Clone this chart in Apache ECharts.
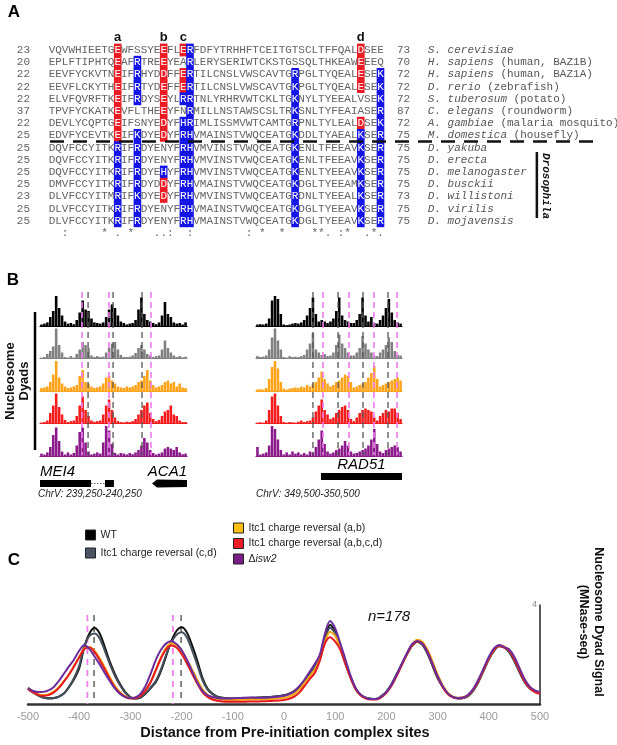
<!DOCTYPE html>
<html><head><meta charset="utf-8">
<script src="https://cdn.jsdelivr.net/npm/echarts@6/dist/echarts.min.js"></script>
<style>html,body{margin:0;padding:0;background:#fff}#c{width:617px;height:745px}</style>
</head><body><div id="c"></div>
<script>
// ================= Panel A: alignment =================
const alnStart = [23,20,22,22,22,37,22,25,25,25,25,25,23,25,25];
const alnEnd   = [73,70,72,72,72,87,72,75,75,75,75,75,73,75,75];
const alnSeqs = [
'VQVWHIEETGEWFSSYEEFLERFDFYTRHHFTCEITGTSCLTFFQALDSEE',
'EPLFTIPHTQEAFRTREEYEARLERYSERIWTCKSTGSSQLTHKEAWEEEQ',
'EEVFYCKVTNEIFRHYDDFFERTILCNSLVWSCAVTGRPGLTYQEALESEK',
'EEVFLCKYTHEIFRTYDEFFERTILCNSLVWSCAVTGKPGLTYQEALESEK',
'ELVFQVRFTKEIFRDYSEYLRRTNLYRHRVWTCKLTGKNYLTYEEALVSEK',
'TPVFYCKATKEVFLTHEEYFNRMILLNSTAWSCSLTRKSNLTYFEAIASER',
'DEVLYCQPTGEIFSNYEDYFHRIMLISSMVWTCAMTGRPNLTYLEALDSEK',
'EDVFYCEVTKEIFKDYEDYFRHVMAINSTVWQCEATGKDDLTYAEALKSER',
'DQVFCCYITKRIFRDYENYFRHVMVINSTVWQCEATGKENLTFEEAVKSER',
'DQVFCCYITKRIFRDYENYFRHVMVINSTVWQCEATGKENLTFEEAVKSER',
'DQVFCCYITKRIFRDYEHYFRHVMVINSTVWQCEATGKENLTYEEAVKSER',
'DMVFCCYITKRIFRDYDDYFRHVMAINSTVWQCEATGKDGLTYEEAMKSER',
'DLVFCCYITMRIFKDYEDYFRHVMVINSTVWQCEATGRDNLTYEEALKSER',
'DLVFCCYITKRIFRDYENYFRHVMAINSTVWQCEATGKDGLTYEEAVKSER',
'DLVFCCYITKRIFRDYENYFRHVMAINSTVWQCEATGKDGLTYEEAVKSER'
];
const alnSpecies = ['S. cerevisiae','H. sapiens','H. sapiens','D. rerio','S. tuberosum','C. elegans','A. gambiae','M. domestica','D. yakuba','D. erecta','D. melanogaster','D. busckii','D. willistoni','D. virilis','D. mojavensis'];
const alnCommon = ['','(human, BAZ1B)','(human, BAZ1A)','(zebrafish)','(potato)','(roundworm)','(malaria mosquito)','(housefly)','','','','','','',''];
const alnRed = [[11,18,21,48],[11,18,48],[11,18,21,48],[11,18,21,48],[11,18],[11,18],[11,18,48],[11,18],[],[],[],[18],[18],[],[]];
const alnBlue = [[22],[14,22],[14,22,38,51],[14,22,38,51],[14,21,22,38,51],[22,38,51],[21,22,38,51],[14,21,22,38,48,51],
  [11,14,21,22,38,48,51],[11,14,21,22,38,48,51],[11,14,18,21,22,38,48,51],[11,14,21,22,38,48,51],[11,14,21,22,38,48,51],[11,14,21,22,38,48,51],[11,14,21,22,38,48,51]];
const alnConsensus = [[3,':'],[9,'*'],[11,'.'],[13,'*'],[17,'.'],[18,'.'],[19,':'],[22,':'],[31,':'],[33,'*'],[36,'*'],[41,'*'],[42,'*'],[43,'.'],[45,':'],[46,'*'],[49,'.'],[50,'*'],[51,'.']];
const siteCols = [11,18,21,48];
const siteNames = ['a','b','c','d'];

// ================= Panel B: nucleosome dyad tracks (50 bins / 1 kb) =================
const trackL_wt   = [0.05,0.08,0.12,0.3,0.5,1.0,0.6,0.35,0.15,0.08, 0.1,0.06,0.2,0.45,0.85,0.55,0.5,0.25,0.12,0.1, 0.08,0.12,0.3,0.55,0.72,0.6,0.35,0.15,0.1,0.05, 0.08,0.1,0.2,0.55,0.95,0.4,0.2,0.15,0.1,0.06, 0.12,0.35,0.8,0.4,0.3,0.12,0.08,0.1,0.05,0.12];
const trackL_cd   = [0.03,0.05,0.15,0.25,0.4,1.0,0.45,0.2,0.05,0.03, 0.08,0.03,0.15,0.3,0.55,0.45,0.35,0.1,0.05,0.08, 0.05,0.06,0.2,0.35,0.5,0.55,0.3,0.12,0.05,0.05, 0.06,0.1,0.18,0.35,0.45,0.3,0.15,0.1,0.05,0.08, 0.1,0.3,0.6,0.35,0.2,0.1,0.05,0.08,0.04,0.06];
const trackL_ab   = [0.1,0.12,0.15,0.3,0.55,1.0,0.45,0.25,0.15,0.1, 0.12,0.15,0.2,0.5,0.7,0.3,0.25,0.15,0.1,0.12, 0.15,0.25,0.45,0.5,0.35,0.25,0.15,0.12,0.1,0.15, 0.12,0.15,0.2,0.3,0.35,0.5,0.7,0.35,0.2,0.12, 0.15,0.2,0.3,0.35,0.25,0.3,0.15,0.25,0.12,0.1];
const trackL_abcd = [0.03,0.05,0.1,0.35,0.6,1.0,0.55,0.3,0.12,0.05, 0.08,0.1,0.25,0.6,0.9,0.45,0.25,0.1,0.06,0.08, 0.1,0.3,0.6,0.8,0.45,0.2,0.08,0.05,0.04,0.06, 0.05,0.08,0.15,0.3,0.45,0.6,0.7,0.35,0.15,0.08, 0.12,0.25,0.4,0.45,0.6,0.3,0.25,0.1,0.05,0.05];
const trackL_isw2 = [0.08,0.05,0.12,0.3,0.7,0.95,0.5,0.15,0.05,0.12, 0.05,0.1,0.35,0.8,0.95,0.45,0.15,0.05,0.08,0.12, 0.08,0.45,1.0,0.85,0.4,0.1,0.05,0.1,0.08,0.05, 0.1,0.06,0.12,0.2,0.35,0.6,0.45,0.2,0.1,0.05, 0.08,0.12,0.25,0.3,0.25,0.2,0.3,0.12,0.06,0.08];
const trackR_wt   = [0.05,0.06,0.05,0.08,0.25,0.85,1.0,0.9,0.4,0.05, 0.03,0.05,0.08,0.1,0.08,0.12,0.2,0.35,0.6,0.95, 0.4,0.15,0.2,0.15,0.1,0.15,0.25,0.5,0.95,0.35, 0.2,0.15,0.1,0.1,0.2,0.4,0.95,0.35,0.15,0.3, 0.1,0.08,0.2,0.35,0.6,0.9,0.45,0.2,0.12,0.08];
const trackR_cd   = [0.08,0.05,0.06,0.1,0.3,0.7,1.0,0.6,0.3,0.05, 0.03,0.08,0.05,0.06,0.05,0.08,0.12,0.3,0.5,0.85, 0.3,0.2,0.12,0.15,0.08,0.1,0.2,0.45,0.8,0.5, 0.35,0.2,0.1,0.1,0.2,0.35,0.75,0.5,0.3,0.2, 0.1,0.08,0.2,0.3,0.45,0.7,0.55,0.25,0.12,0.1];
const trackR_ab   = [0.05,0.06,0.05,0.1,0.4,0.8,1.0,0.75,0.3,0.08, 0.05,0.08,0.1,0.12,0.1,0.15,0.12,0.2,0.15,0.25, 0.3,0.45,0.65,0.4,0.25,0.15,0.2,0.3,0.35,0.45, 0.55,0.5,0.3,0.12,0.15,0.2,0.25,0.3,0.45,0.6, 0.83,0.4,0.15,0.2,0.25,0.3,0.35,0.4,0.45,0.35];
const trackR_abcd = [0.03,0.04,0.03,0.1,0.45,0.9,1.0,0.6,0.25,0.05, 0.03,0.05,0.04,0.03,0.06,0.1,0.05,0.08,0.1,0.2, 0.4,0.6,0.8,0.45,0.3,0.15,0.2,0.35,0.45,0.55, 0.6,0.45,0.15,0.08,0.2,0.35,0.45,0.5,0.45,0.4, 0.2,0.1,0.25,0.35,0.45,0.4,0.5,0.5,0.35,0.15];
const trackR_isw2 = [0.3,0.05,0.08,0.12,0.35,1.0,0.9,0.55,0.2,0.05, 0.12,0.05,0.15,0.08,0.12,0.05,0.1,0.05,0.15,0.12, 0.3,0.55,0.85,0.4,0.15,0.08,0.12,0.2,0.25,0.35, 0.5,0.35,0.15,0.08,0.1,0.15,0.2,0.25,0.35,0.55, 0.9,0.4,0.15,0.1,0.2,0.25,0.3,0.35,0.3,0.15];
// dyad reference lines (bp within the 1 kb window)
const dyadL_isw2 = [286, 469, 755];
const dyadL_wt   = [327, 497, 694];
const dyadR_isw2 = [459, 637, 808, 966];
const dyadR_wt   = [390, 562, 733, 904];
// gene models: [start, end, kind] kind 0 exon, 1 intron, 2 exon w/ leftward arrow
const genesL = [[0,347,0],[347,442,1],[442,503,0],[762,1000,2]];
const genesR = [[445,1000,0]];
const geneNamesL = ['MEI4','ACA1'];
const geneLabelPosL = [0, 1000];
const geneNamesR = ['RAD51'];
const geneLabelPosR = [722];
const regionL = 'ChrV: 239,250-240,250';
const regionR = 'ChrV: 349,500-350,500';

// ================= Panel C: aggregate dyad signal =================
const seriesNames = ['WT','Itc1 charge reversal (c,d)','Itc1 charge reversal (a,b)','Itc1 charge reversal (a,b,c,d)','Δisw2'];
const sig_wt = [0.65,0.50,0.37,0.27,0.23,0.24,0.30,0.42,0.68,1.00,
 1.45,2.30,2.85,3.07,2.85,2.30,1.70,1.20,0.80,0.48,
 0.28,0.22,0.26,0.42,0.65,0.90,1.35,1.95,2.55,2.95,
 3.10,2.90,2.40,1.80,1.10,0.65,0.42,0.30,0.25,0.23,
 0.22,0.22,0.23,0.24,0.25,0.26,0.27,0.28,0.30,0.32,
 0.35,0.42,0.52,0.70,0.95,1.25,1.55,1.90,2.65,3.20,
 2.95,2.30,1.65,1.10,0.62,0.36,0.25,0.21,0.20,0.32,
 0.50,0.80,1.20,1.60,2.00,2.35,2.52,2.40,2.05,1.55,
 1.05,0.70,0.42,0.28,0.23,0.24,0.33,0.55,0.90,1.35,
 1.80,2.15,2.33,2.30,2.10,1.75,1.30,0.90,0.65,0.52,
 0.45];
const sig_cd = [0.60,0.46,0.34,0.25,0.22,0.23,0.29,0.42,0.70,1.05,
 1.55,2.35,2.75,2.85,2.65,2.15,1.60,1.12,0.75,0.45,
 0.27,0.22,0.27,0.44,0.68,0.95,1.42,2.00,2.50,2.80,
 2.90,2.70,2.20,1.62,1.00,0.60,0.40,0.29,0.24,0.22,
 0.21,0.21,0.22,0.23,0.24,0.25,0.26,0.27,0.29,0.31,
 0.34,0.40,0.50,0.68,0.93,1.22,1.52,1.88,2.60,3.08,
 2.85,2.25,1.62,1.08,0.60,0.35,0.24,0.20,0.20,0.31,
 0.50,0.80,1.20,1.62,2.02,2.36,2.52,2.42,2.06,1.56,
 1.06,0.70,0.42,0.28,0.22,0.24,0.33,0.56,0.92,1.37,
 1.82,2.17,2.34,2.30,2.08,1.72,1.28,0.88,0.63,0.50,
 0.43];
const sig_ab = [0.62,0.48,0.39,0.36,0.40,0.50,0.68,0.92,1.20,1.55,
 1.90,2.25,2.30,2.15,1.85,1.48,1.08,0.72,0.47,0.31,
 0.24,0.26,0.36,0.58,0.92,1.40,1.90,2.28,2.45,2.38,
 2.15,1.80,1.42,1.00,0.62,0.38,0.25,0.20,0.17,0.16,
 0.16,0.17,0.17,0.18,0.18,0.19,0.19,0.20,0.21,0.23,
 0.25,0.31,0.40,0.58,0.85,1.12,1.38,1.80,2.50,2.92,
 2.75,2.25,1.65,1.08,0.62,0.36,0.24,0.20,0.20,0.30,
 0.48,0.76,1.15,1.58,2.02,2.40,2.60,2.52,2.20,1.72,
 1.20,0.76,0.46,0.30,0.25,0.27,0.37,0.60,0.96,1.40,
 1.84,2.20,2.36,2.33,2.16,1.86,1.42,1.00,0.70,0.52,
 0.44];
const sig_abcd = [0.60,0.47,0.37,0.33,0.36,0.46,0.64,0.90,1.18,1.52,
 1.88,2.22,2.28,2.10,1.78,1.40,1.00,0.66,0.43,0.29,
 0.22,0.24,0.34,0.56,0.90,1.38,1.86,2.22,2.36,2.28,
 2.02,1.66,1.25,0.85,0.50,0.29,0.18,0.13,0.10,0.09,
 0.09,0.09,0.09,0.10,0.10,0.10,0.11,0.12,0.13,0.14,
 0.16,0.21,0.30,0.46,0.72,1.00,1.25,1.75,2.45,2.70,
 2.52,2.20,1.62,1.05,0.60,0.34,0.22,0.18,0.18,0.27,
 0.45,0.74,1.13,1.57,2.02,2.38,2.52,2.45,2.12,1.62,
 1.10,0.68,0.40,0.27,0.23,0.25,0.36,0.60,0.95,1.40,
 1.85,2.20,2.35,2.28,2.16,1.80,1.35,0.92,0.64,0.48,
 0.41];
const sig_isw2 = [0.62,0.53,0.48,0.49,0.55,0.68,0.92,1.22,1.52,1.80,
 2.15,2.38,2.22,1.92,1.60,1.25,0.92,0.62,0.40,0.28,
 0.24,0.27,0.42,0.75,1.25,1.80,2.20,2.45,2.55,2.42,
 2.18,1.80,1.35,0.90,0.55,0.36,0.28,0.24,0.22,0.22,
 0.23,0.24,0.25,0.26,0.26,0.25,0.25,0.26,0.28,0.30,
 0.33,0.40,0.52,0.72,0.98,1.30,1.62,2.00,2.85,3.35,
 3.05,2.45,1.80,1.15,0.65,0.38,0.25,0.20,0.20,0.30,
 0.48,0.78,1.18,1.62,2.05,2.42,2.55,2.45,2.10,1.62,
 1.12,0.72,0.43,0.29,0.24,0.26,0.38,0.62,1.00,1.45,
 1.90,2.25,2.38,2.30,2.20,1.90,1.45,1.00,0.70,0.55,
 0.48];
const cDyad_isw2 = [-384, -217];
const cDyad_wt = [-371, -201];
const xTicks = [-500,-400,-300,-200,-100,0,100,200,300,400,500];

// ================= build =================
const SANS = '"Liberation Sans", Arial, Helvetica, sans-serif';
const MONO = '"Liberation Mono", "Courier New", monospace';
const distance = [];
for (let d = xTicks[0]; d <= xTicks[xTicks.length-1]; d += 10) distance.push(d);

const option = {animation:false, grid:[], xAxis:[], yAxis:[], series:[], legend:[], graphic:[]};
function addGrid(g, xa, ya) {
  const gi = option.grid.length;
  option.grid.push(g);
  option.xAxis.push(Object.assign({gridIndex:gi}, xa));
  option.yAxis.push(Object.assign({gridIndex:gi}, ya));
  return gi;
}

// ---- A ----
const COLW = 6.57, ROWH = 12.2, COL1X = 52, ROW1Y = 50;
const gA = addGrid({left: COL1X - 5*COLW, top: ROW1Y - 0.5*ROWH, width: 90*COLW, height: 16*ROWH},
  {type:'value', min:-4, max:86, show:false}, {type:'value', min:0.5, max:16.5, inverse:true, show:false});
const SEQ_GRAY = '#636363';
function renderAln(params, api) {
  const r = api.value(1);
  const sz = api.size([1, 1]);
  const cw = sz[0], rh = sz[1];
  const kids = [];
  const font11 = '11px ' + MONO;
  if (r === 0) {
    siteCols.forEach((c, k) => {
      const p = api.coord([c, 0]);
      kids.push({type:'text', style:{text: siteNames[k], x:p[0], y:p[1], align:'center', verticalAlign:'middle', font:'bold 13px ' + SANS, fill:'#111'}});
    });
  } else if (r === 16) {
    alnConsensus.forEach(([c, ch]) => {
      const p = api.coord([c, r]);
      kids.push({type:'text', style:{text: ch, x:p[0], y:p[1], align:'center', verticalAlign:'middle', font: font11, fill:SEQ_GRAY}});
    });
  } else {
    const i = r - 1;
    const seq = alnSeqs[i];
    for (let c = 1; c <= seq.length; c++) {
      const p = api.coord([c, r]);
      let bg = null;
      if (alnRed[i].includes(c)) bg = '#ec1c24';
      else if (alnBlue[i].includes(c)) bg = '#1414e6';
      if (bg) kids.push({type:'rect', shape:{x:p[0]-cw*0.58, y:p[1]-rh/2-0.3, width:cw*1.16, height:rh+0.6}, style:{fill:bg}});
      kids.push({type:'text', style:{text: seq[c-1], x:p[0], y:p[1], align:'center', verticalAlign:'middle', font: font11, fill: bg ? '#fff' : SEQ_GRAY}});
    }
    const ps = api.coord([-2.35, r]);
    kids.push({type:'text', style:{text:String(alnStart[i]), x:ps[0], y:ps[1], align:'right', verticalAlign:'middle', font: font11, fill:SEQ_GRAY}});
    const pe = api.coord([53.5, r]);
    kids.push({type:'text', style:{text:String(alnEnd[i]), x:pe[0], y:pe[1], align:'left', verticalAlign:'middle', font: font11, fill:SEQ_GRAY}});
    const pn = api.coord([58.2, r]);
    const txt = '{i|' + alnSpecies[i] + '}' + (alnCommon[i] ? '{n| ' + alnCommon[i] + '}' : '');
    kids.push({type:'text', style:{text: txt, x:pn[0], y:pn[1], align:'left', verticalAlign:'middle', font: font11, fill:'#555',
      rich:{i:{fontStyle:'italic', fontSize:11, fontFamily:MONO, fill:'#555'}, n:{fontSize:11, fontFamily:MONO, fill:'#555'}}}});
  }
  return {type:'group', children: kids};
}
const alnRows = [];
for (let r = 0; r <= alnSeqs.length + 1; r++) alnRows.push([0, r]);
option.series.push({type:'custom', xAxisIndex:gA, yAxisIndex:gA, data: alnRows, renderItem: renderAln, silent:true, clip:false});
option.series.push({type:'line', xAxisIndex:gA, yAxisIndex:gA, data:[[0.7, 8.5],[84.7, 8.5]], symbol:'none', silent:true,
  lineStyle:{color:'#111', width:2.5, type:[14,9]}});
option.series.push({type:'line', xAxisIndex:gA, yAxisIndex:gA, data:[[74.8, 9.36],[74.8, 14.77]], symbol:'none', silent:true,
  lineStyle:{color:'#111', width:2.5}});

// ---- B ----
const trackColors = ['#000000','#808080','#ffa31a','#f41d1d','#8b1a8b'];
const trackTops = [296, 328.5, 361, 393.5, 426];
const TRACK_H = 30;
const binIdx = trackL_wt.map((v, i) => i);
const sides = [
  {left:40, width:147, tracks:[trackL_wt,trackL_cd,trackL_ab,trackL_abcd,trackL_isw2], dm:dyadL_isw2, dg:dyadL_wt, genes:genesL, geneTop:480, names:geneNamesL, namePos:geneLabelPosL},
  {left:256, width:146, tracks:[trackR_wt,trackR_cd,trackR_ab,trackR_abcd,trackR_isw2], dm:dyadR_isw2, dg:dyadR_wt, genes:genesR, geneTop:473, names:geneNamesR, namePos:geneLabelPosR}
];
const labelAlign = {MEI4:'left', ACA1:'right', RAD51:'center'};
sides.forEach(sd => {
  sd.tracks.forEach((vals, t) => {
    const gi = addGrid({left: sd.left, top: trackTops[t], width: sd.width, height: TRACK_H},
      {type:'category', data: binIdx, boundaryGap:true, axisLine:{show:true, lineStyle:{color:trackColors[t], width:1.2}}, axisTick:{show:false}, axisLabel:{show:false}, splitLine:{show:false}},
      {type:'value', min:0, max:1, show:false});
    option.series.push({type:'bar', xAxisIndex:gi, yAxisIndex:gi, data: vals, barCategoryGap:'12%', itemStyle:{color: trackColors[t]}, silent:true});
  });
  const go = addGrid({left: sd.left, top: 292, width: sd.width, height: 163},
    {type:'value', min:0, max:1000, show:false}, {type:'value', min:0, max:1, show:false});
  const mkDash = (color, w) => (params, api) => {
    const a = api.coord([api.value(0), 1]), b = api.coord([api.value(0), 0]);
    return {type:'line', shape:{x1:a[0], y1:a[1], x2:b[0], y2:b[1]}, style:{stroke:color, lineWidth:w, lineDash:[6,4]}};
  };
  option.series.push({type:'custom', xAxisIndex:go, yAxisIndex:go, data: sd.dm.map(x => [x, 0]), renderItem: mkDash('#ee7cee', 1.6), silent:true, z:5});
  option.series.push({type:'custom', xAxisIndex:go, yAxisIndex:go, data: sd.dg.map(x => [x, 0]), renderItem: mkDash('#555555', 1.3), silent:true, z:5});
  const gg = addGrid({left: sd.left, top: sd.geneTop, width: sd.width, height: 7},
    {type:'value', min:0, max:1000, show:false}, {type:'value', min:0, max:1, show:false});
  option.series.push({type:'custom', xAxisIndex:gg, yAxisIndex:gg, data: sd.genes, silent:true, clip:false,
    renderItem: (params, api) => {
      const s = api.value(0), e = api.value(1), kind = api.value(2);
      const p0 = api.coord([s, 1]), p1 = api.coord([e, 0]);
      const yc = (p0[1] + p1[1]) / 2;
      if (kind === 0) return {type:'rect', shape:{x:p0[0], y:p0[1], width:p1[0]-p0[0], height:p1[1]-p0[1]}, style:{fill:'#000'}};
      if (kind === 1) return {type:'line', shape:{x1:p0[0], y1:yc, x2:p1[0], y2:yc}, style:{stroke:'#666', lineWidth:1, lineDash:[1.5,1.5]}};
      return {type:'polygon', shape:{points:[[p0[0], yc],[p0[0]+5, p0[1]-0.5],[p1[0], p0[1]],[p1[0], p1[1]],[p0[0]+5, p1[1]+0.5]]}, style:{fill:'#000'}};
    }});
  option.series.push({type:'custom', xAxisIndex:gg, yAxisIndex:gg, data: sd.namePos.map((x, k) => [x, k]), silent:true, clip:false,
    renderItem: (params, api) => {
      const k = api.value(1);
      const name = sd.names[k];
      const p = api.coord([api.value(0), 0.5]);
      return {type:'text', style:{text:name, x:p[0], y:p[1]-11.5, align: labelAlign[name], verticalAlign:'middle', font:'italic 15px ' + SANS, fill:'#000'}};
    }});
});

// ---- C ----
const gC = addGrid({left:28, top:605, width:512, height:99},
  {type:'value', min:xTicks[0], max:xTicks[xTicks.length-1], interval:100, splitLine:{show:false},
   axisLine:{show:true, onZero:false, lineStyle:{color:'#333', width:2.5}}, axisTick:{show:false},
   axisLabel:{color:'#9a9a9a', fontSize:11, margin:7, fontFamily:SANS}},
  {type:'value', position:'right', min:0, max:4, interval:4, splitLine:{show:false},
   axisLine:{show:true, onZero:false, lineStyle:{color:'#222', width:1.5}}, axisTick:{show:false},
   axisLabel:{inside:true, margin:3, color:'#8a8a8a', fontSize:9, fontFamily:SANS, formatter: v => v === 4 ? '4' : ''}});
const dashC = (color, w) => (params, api) => {
  const a = api.coord([api.value(0), 3.6]), b = api.coord([api.value(0), 0]);
  return {type:'line', shape:{x1:a[0], y1:a[1], x2:b[0], y2:b[1]}, style:{stroke:color, lineWidth:w, lineDash:[6,5]}};
};
option.series.push({type:'custom', xAxisIndex:gC, yAxisIndex:gC, data: cDyad_isw2.map(x => [x, 0]), renderItem: dashC('#f07ff0', 1.8), silent:true, z:1});
option.series.push({type:'custom', xAxisIndex:gC, yAxisIndex:gC, data: cDyad_wt.map(x => [x, 0]), renderItem: dashC('#555', 1.4), silent:true, z:1});
const lineColors = ['#111111','#45515d','#f3a712','#e5191e','#6c2c9c'];
const legendColors = ['#000000','#4a5564','#fcbd12','#ee1c25','#7a1c88'];
[sig_wt, sig_cd, sig_ab, sig_abcd, sig_isw2].forEach((vals, k) => {
  option.series.push({type:'line', name: seriesNames[k], xAxisIndex:gC, yAxisIndex:gC, data: distance.map((d, i) => [d, vals[i]]),
    symbol:'none', smooth:0.3, lineStyle:{color: lineColors[k], width:2}, itemStyle:{color: lineColors[k]}, silent:true, z:2});
});
const legendBase = {orient:'vertical', icon:'rect', itemWidth:10, itemHeight:10, padding:0, selectedMode:false,
  itemStyle:{borderColor:'#222', borderWidth:1},
  textStyle:{fontSize:10.5, color:'#222', fontFamily:SANS, lineHeight:12, rich:{it:{fontStyle:'italic', fontSize:10.5, color:'#222', fontFamily:SANS}}},
  formatter: n => n === 'Δisw2' ? 'Δ{it|isw2}' : n};
option.legend.push(Object.assign({}, legendBase, {left:85, top:529, itemGap:6,
  data:[0,1].map(k => ({name: seriesNames[k], itemStyle:{color: legendColors[k]}}))}));
option.legend.push(Object.assign({}, legendBase, {left:233, top:522, itemGap:3.5,
  data:[2,3,4].map(k => ({name: seriesNames[k], itemStyle:{color: legendColors[k]}}))}));

// ---- text decorations ----
const G = option.graphic;
const bigLetter = (t, x, y) => G.push({type:'text', x, y, style:{text:t, font:'bold 17px ' + SANS, fill:'#000', align:'center', verticalAlign:'middle'}});
bigLetter('A', 14, 12); bigLetter('B', 13, 280); bigLetter('C', 14, 560);
G.push({type:'text', x:546, y:186, rotation:-Math.PI/2, style:{text:'Drosophila', font:'italic bold 11px ' + MONO, fill:'#111', align:'center', verticalAlign:'middle'}});
G.push({type:'line', shape:{x1:35, y1:312, x2:35, y2:450}, style:{stroke:'#000', lineWidth:2.5}});
G.push({type:'text', x:17, y:381, rotation:Math.PI/2, style:{text:'Nucleosome\nDyads', font:'bold 13px ' + SANS, lineHeight:14, fill:'#111', align:'center', verticalAlign:'middle'}});
G.push({type:'text', x:38, y:494, style:{text:regionL, font:'italic 10px ' + SANS, fill:'#222', align:'left', verticalAlign:'middle'}});
G.push({type:'text', x:256, y:494, style:{text:regionR, font:'italic 10px ' + SANS, fill:'#222', align:'left', verticalAlign:'middle'}});
G.push({type:'text', x:368, y:617, style:{text:'n=178', font:'italic 15px ' + SANS, fill:'#111', align:'left', verticalAlign:'middle'}});
G.push({type:'text', x:591, y:622, rotation:-Math.PI/2, style:{text:'Nucleosome Dyad Signal\n(MNase-seq)', font:'bold 12.5px ' + SANS, lineHeight:15, fill:'#111', align:'center', verticalAlign:'middle'}});
G.push({type:'text', x:285, y:733, style:{text:'Distance from Pre-initiation complex sites', font:'bold 14.5px ' + SANS, fill:'#111', align:'center', verticalAlign:'middle'}});

const chart = echarts.init(document.getElementById('c'), null, {renderer:'canvas'});
chart.setOption(option);
</script></body></html>
